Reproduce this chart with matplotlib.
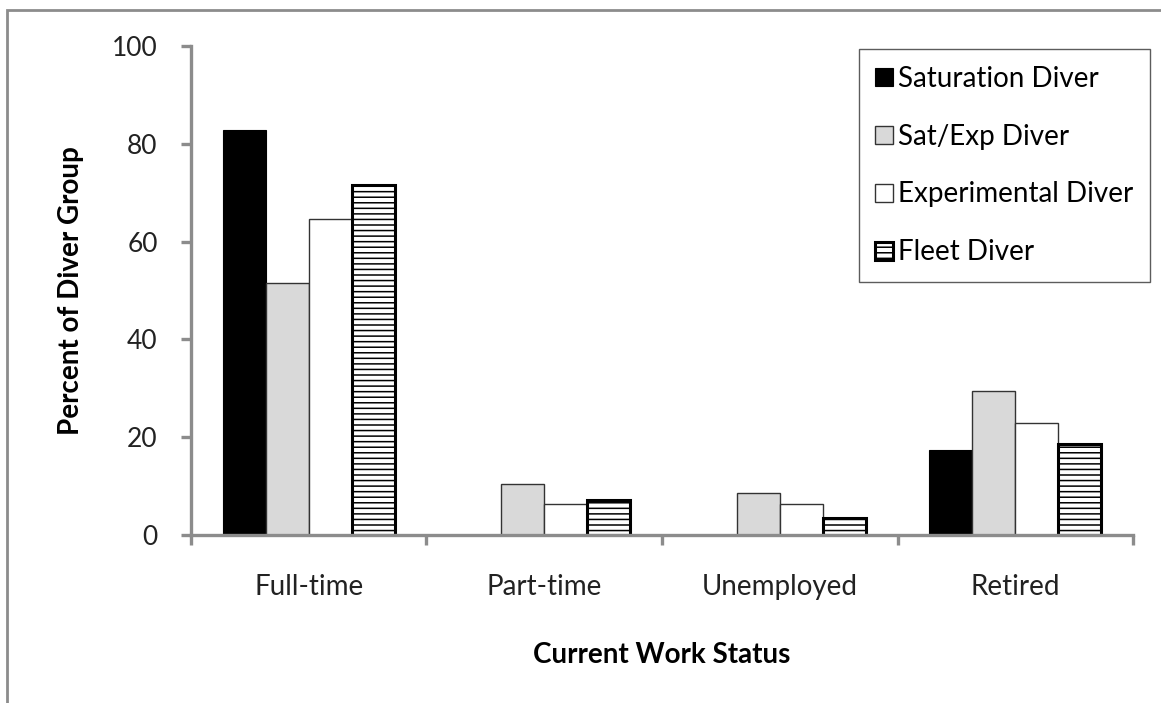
import numpy as np
import matplotlib.pyplot as plt
from matplotlib.patches import Rectangle

plt.rcParams['font.family'] = ['Lato', 'DejaVu Sans']
plt.rcParams['hatch.linewidth'] = 1.1

categories = ['Full-time', 'Part-time', 'Unemployed', 'Retired']
series_names = ['Saturation Diver', 'Sat/Exp Diver', 'Experimental Diver', 'Fleet Diver']
saturation = [82.8, 0, 0, 17.4]
sat_exp = [51.5, 10.4, 8.6, 29.4]
experimental = [64.6, 6.3, 6.3, 22.9]
fleet = [71.6, 7.2, 3.4, 18.6]
yticks = [0, 20, 40, 60, 80, 100]

fig = plt.figure(figsize=(11.61, 7.03), dpi=100)
ax = fig.add_axes([0.1645, 0.239, 0.8114, 0.6956])

# outer chart frame
fig.patches.append(Rectangle((7 / 1161, -0.01), 1.05, 1 - 10 / 703 + 0.01,
                             transform=fig.transFigure, fill=False,
                             edgecolor='#8c8c8c', linewidth=2))

x = np.arange(len(categories))
w = 0.183
styles = [
    dict(color='black', edgecolor='black', linewidth=0.8),
    dict(color='#d9d9d9', edgecolor='#333333', linewidth=1.0),
    dict(color='white', edgecolor='#333333', linewidth=1.0),
    dict(color='white', edgecolor='black', linewidth=2.2, hatch='---'),
]
data = [saturation, sat_exp, experimental, fleet]
for i, (vals, st) in enumerate(zip(data, styles)):
    ax.bar(x + (i - 1.5) * w, vals, w, label=series_names[i], zorder=2, **st)

ax.set_xlim(-0.5, 3.5)
ax.set_ylim(0, 100)
ax.set_yticks(yticks)
ax.set_xticks([-0.5, 0.5, 1.5, 2.5, 3.5])
ax.set_xticklabels([])
ax.set_xticks(x, minor=True)
ax.set_xticklabels(categories, minor=True)

for s in ['top', 'right']:
    ax.spines[s].set_visible(False)
for s in ['left', 'bottom']:
    ax.spines[s].set_color('#8c8c8c')
    ax.spines[s].set_linewidth(2.4)
ax.tick_params(axis='y', direction='out', length=7, width=2.4, color='#8c8c8c',
               labelsize=19, pad=17, labelcolor='#222222')
ax.tick_params(axis='x', which='major', direction='out', length=7, width=2.4,
               color='#8c8c8c')
ax.tick_params(axis='x', which='minor', length=0, labelsize=20, pad=28,
               labelcolor='#222222')

ax.set_xlabel('Current Work Status', fontsize=20, fontweight='bold', labelpad=30)
ax.set_ylabel('Percent of Diver Group', fontsize=20, fontweight='bold', labelpad=20)

leg = ax.legend(loc='upper right', bbox_to_anchor=(1.018, 0.994), fontsize=20,
                frameon=True, fancybox=False, edgecolor='#333333',
                handlelength=0.62, handleheight=0.62, handletextpad=0.2,
                labelspacing=1.15, borderpad=0.6, borderaxespad=0)
leg.get_frame().set_linewidth(1.0)

fig.savefig('out.png', dpi=100)
